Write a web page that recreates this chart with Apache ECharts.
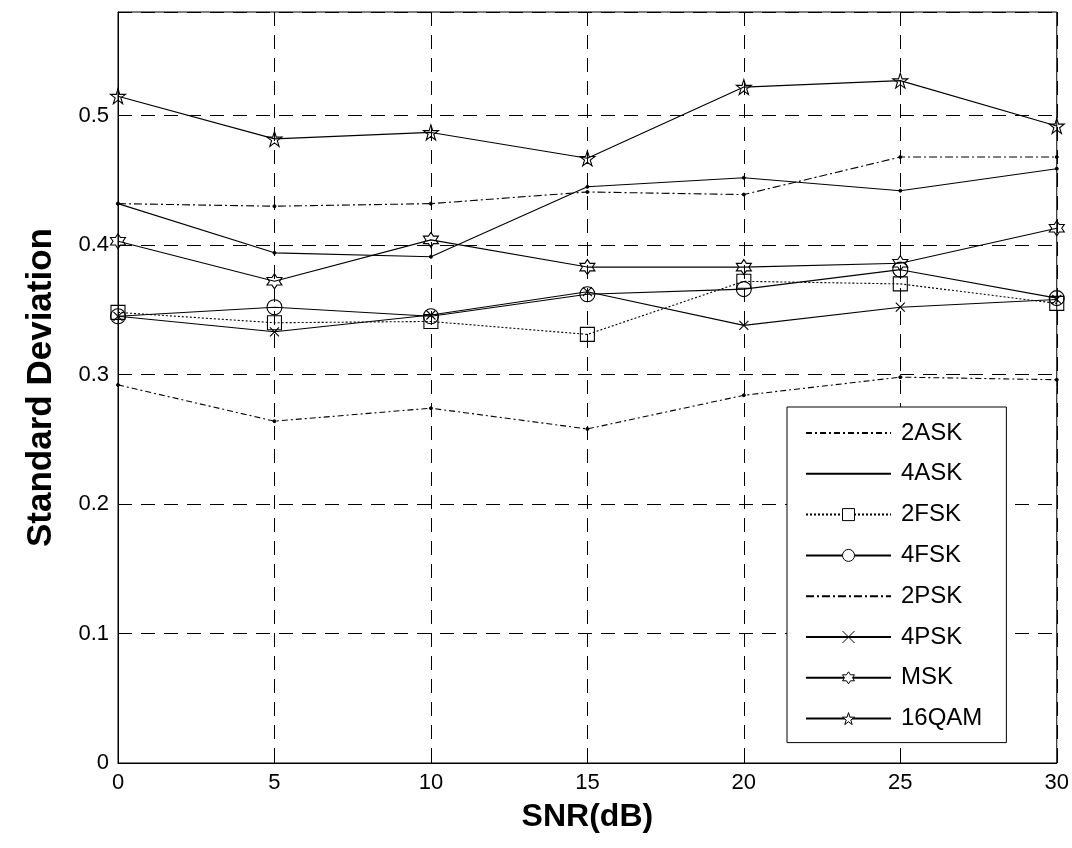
<!DOCTYPE html>
<html>
<head>
<meta charset="utf-8">
<script src="https://cdn.jsdelivr.net/npm/echarts@6/dist/echarts.min.js"></script>
<style>
html,body{margin:0;padding:0;background:#fff;}
#chart{width:1072px;height:848px;}
</style>
</head>
<body>
<div id="chart"></div>
<script>
const snr = [0, 5, 10, 15, 20, 25, 30];
const ask2  = [0.292, 0.264, 0.274, 0.258, 0.284, 0.298, 0.296];
const ask4  = [0.432, 0.394, 0.391, 0.445, 0.452, 0.442, 0.459];
const fsk2  = [0.348, 0.340, 0.341, 0.331, 0.372, 0.370, 0.355];
const fsk4  = [0.345, 0.352, 0.345, 0.362, 0.366, 0.381, 0.359];
const psk2  = [0.432, 0.430, 0.432, 0.441, 0.439, 0.468, 0.468];
const psk4  = [0.345, 0.333, 0.346, 0.364, 0.338, 0.352, 0.358];
const msk   = [0.403, 0.372, 0.404, 0.383, 0.383, 0.386, 0.413];
const qam16 = [0.515, 0.482, 0.487, 0.467, 0.522, 0.527, 0.492];
const seriesNames = ['2ASK','4ASK','2FSK','4FSK','2PSK','4PSK','MSK','16QAM'];
const yTicks = [0, 0.1, 0.2, 0.3, 0.4, 0.5];
const xTicks = [0, 5, 10, 15, 20, 25, 30];

const SYM_X = 'path://M0,0L10,10M10,0L0,10';
const SYM_HEX = 'path://M5,0L6.44,2.5L9.33,2.5L7.89,5L9.33,7.5L6.44,7.5L5,10L3.56,7.5L0.67,7.5L2.11,5L0.67,2.5L3.56,2.5Z';
const SYM_STAR = 'path://M10,0L12.245,6.91L19.51,6.91L13.63,11.18L15.88,18.09L10,13.82L4.12,18.09L6.37,11.18L0.49,6.91L7.755,6.91Z';

function pairs(vals){ return snr.map((x,i)=>[x, vals[i]]); }

function mk(name, vals, lineType, symbol, size, filled){
  return {
    name: name, type: 'line', data: pairs(vals),
    symbol: symbol, symbolSize: size, showAllSymbol: true,
    lineStyle: {color: '#000', width: 1.1, type: lineType},
    itemStyle: filled ? {color: '#000', borderColor: '#000', borderWidth: 1}
                      : {color: 'rgba(255,255,255,0)', borderColor: '#000', borderWidth: 1.1},
    emphasis: {disabled: true},
    animation: false
  };
}

const series = [
  mk(seriesNames[0], ask2, [6,3,2,3], 'circle', 3, true),
  mk(seriesNames[1], ask4, 'solid', 'circle', 3, true),
  mk(seriesNames[2], fsk2, [2,2], 'rect', 14, false),
  mk(seriesNames[3], fsk4, 'solid', 'circle', 15, false),
  mk(seriesNames[4], psk2, [8,3,2,3], 'circle', 3, true),
  mk(seriesNames[5], psk4, 'solid', SYM_X, 9, false),
  mk(seriesNames[6], msk, 'solid', SYM_HEX, 15, false),
  mk(seriesNames[7], qam16, 'solid', SYM_STAR, 15, false)
];

const dotSeries = ['2ASK','4ASK','2PSK'];
const legendData = seriesNames.map(n => dotSeries.indexOf(n) >= 0
  ? {name: n, itemStyle: {color: 'rgba(0,0,0,0)', borderWidth: 0, opacity: 0}}
  : {name: n, itemStyle: {color: '#fff', borderColor: '#000', borderWidth: 1}});

const chart = echarts.init(document.getElementById('chart'), null, {renderer: 'canvas'});
chart.setOption({
  backgroundColor: '#fff',
  animation: false,
  grid: {left: 118, right: 14, top: 12, bottom: 85, show: true, borderColor: '#000', borderWidth: 1, backgroundColor: 'transparent'},
  xAxis: {
    type: 'value', min: xTicks[0], max: xTicks[xTicks.length-1], interval: 5,
    name: 'SNR(dB)', nameLocation: 'middle', nameGap: 38,
    nameTextStyle: {fontFamily: 'Liberation Sans, Arial', fontSize: 32, fontWeight: 'bold', color: '#000'},
    axisLine: {show: true, lineStyle: {color: '#000', width: 1}},
    axisTick: {show: true, inside: true, length: 7, lineStyle: {color: '#000'}},
    axisLabel: {fontFamily: 'Liberation Sans, Arial', fontSize: 22, color: '#000', margin: 9},
    splitLine: {show: true, lineStyle: {color: '#000', width: 1, type: [14, 9]}}
  },
  yAxis: {
    type: 'value', min: yTicks[0], max: 0.58, interval: 0.1,
    name: 'Standard Deviation', nameLocation: 'middle', nameGap: 59, nameRotate: 90,
    nameTextStyle: {fontFamily: 'Liberation Sans, Arial', fontSize: 35, fontWeight: 'bold', color: '#000'},
    axisLine: {show: true, lineStyle: {color: '#000', width: 1}},
    axisTick: {show: true, inside: true, length: 7, lineStyle: {color: '#000'}},
    axisLabel: {fontFamily: 'Liberation Sans, Arial', fontSize: 22, color: '#000', margin: 9, showMaxLabel: false,
      formatter: function(v){ return yTicks.some(t=>Math.abs(t-v)<1e-9) ? String(+v.toFixed(1)) : ''; }},
    splitLine: {show: true, lineStyle: {color: '#000', width: 1, type: [14, 9]}}
  },
  legend: {
    orient: 'vertical', left: 787, top: 407,
    backgroundColor: '#fff', borderColor: '#000', borderWidth: 1,
    padding: [14, 24, 12, 18],
    itemWidth: 85, itemHeight: 15, itemGap: 16.8,
    textStyle: {fontFamily: 'Liberation Sans, Arial', fontSize: 24, color: '#000', lineHeight: 23, padding: [0,0,0,5]},
    data: legendData
  },
  series: series
});
</script>
</body>
</html>
